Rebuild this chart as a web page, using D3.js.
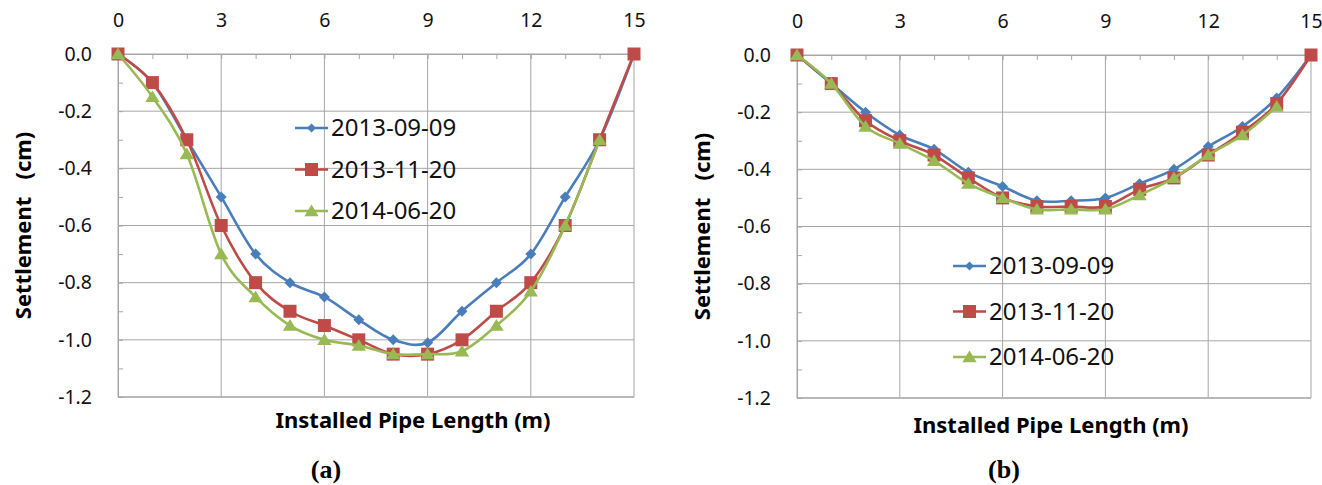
<!DOCTYPE html>
<html>
<head>
<meta charset="utf-8">
<script src="https://cdn.jsdelivr.net/npm/d3@7"></script>
<style>
  body { margin: 0; background: #fff; }
  text { font-family: "Noto Sans", "Open Sans", sans-serif; }
</style>
</head>
<body>
<div id="chart"></div>
<script>
// Installed pipe length (m), shared by both panels
var lengths = d3.range(0, 16);
var seriesNames = ["2013-09-09", "2013-11-20", "2014-06-20"];
var xTickValues = [0, 3, 6, 9, 12, 15];
var yTickValues = [0, -0.2, -0.4, -0.6, -0.8, -1.0, -1.2];

// panel (a) settlement, cm
var a0909 = [0, -0.1, -0.3, -0.5, -0.7, -0.8, -0.85, -0.93, -1.0, -1.01, -0.9, -0.8, -0.7, -0.5, -0.3, 0];
var a1120 = [0, -0.1, -0.3, -0.6, -0.8, -0.9, -0.95, -1.0, -1.05, -1.05, -1.0, -0.9, -0.8, -0.6, -0.3, 0];
var a0620 = [0, -0.15, -0.35, -0.7, -0.85, -0.95, -1.0, -1.02, -1.05, -1.05, -1.04, -0.95, -0.83, -0.6, -0.3];

// panel (b) settlement, cm
var b0909 = [0, -0.1, -0.2, -0.28, -0.33, -0.41, -0.46, -0.51, -0.51, -0.5, -0.45, -0.4, -0.32, -0.25, -0.15, 0];
var b1120 = [0, -0.1, -0.23, -0.3, -0.35, -0.43, -0.5, -0.53, -0.53, -0.53, -0.47, -0.43, -0.35, -0.27, -0.17, 0];
var b0620 = [0, -0.1, -0.25, -0.31, -0.37, -0.45, -0.5, -0.54, -0.54, -0.54, -0.49, -0.43, -0.35, -0.28, -0.18];

var colors = ["#4a7ebb", "#be4b48", "#98b954"];
var shapes = ["diamond", "square", "triangle"];

var svg = d3.select("#chart").append("svg")
    .attr("width", 1322)
    .attr("height", 485);

svg.append("rect").attr("width", 1322).attr("height", 485).attr("fill", "#fff");

function markerPath(shape, s) {
    if (shape === "diamond") return "M0," + (-s) + "L" + s + ",0L0," + s + "L" + (-s) + ",0Z";
    if (shape === "square") return "M" + (-s) + "," + (-s) + "h" + (2 * s) + "v" + (2 * s) + "h" + (-2 * s) + "Z";
    return "M0," + (-s) + "L" + (s * 1.1) + "," + (s * 0.8) + "L" + (-s * 1.1) + "," + (s * 0.8) + "Z";
}
var markerSize = { diamond: 5.5, square: 6.5, triangle: 6.5 };

function drawPanel(p) {
    var x = d3.scaleLinear().domain([0, 15]).range([p.left, p.right]);
    var y = d3.scaleLinear().domain([0, -1.2]).range([p.top, p.bottom]);
    var g = svg.append("g");

    // grid
    g.selectAll(".vgrid").data(xTickValues).enter().append("line")
        .attr("x1", function(d) { return x(d); }).attr("x2", function(d) { return x(d); })
        .attr("y1", p.top).attr("y2", p.bottom)
        .attr("stroke", "#a6a6a6").attr("stroke-width", 1);
    g.selectAll(".hgrid").data(yTickValues).enter().append("line")
        .attr("x1", p.left).attr("x2", p.right)
        .attr("y1", function(d) { return y(d); }).attr("y2", function(d) { return y(d); })
        .attr("stroke", function(d) { return d === -1.2 ? "#b8b8b8" : "#a6a6a6"; })
        .attr("stroke-width", function(d) { return d === -1.2 ? 2 : 1; });

    // minor ticks
    var topMinor = d3.axisTop(x).tickValues(lengths).tickSize(-5).tickFormat("");
    g.append("g").attr("transform", "translate(0," + p.top + ")").call(topMinor)
        .call(function(s) { s.select(".domain").attr("stroke", "#a6a6a6"); s.selectAll("line").attr("stroke", "#a6a6a6"); });
    var leftMinor = d3.axisLeft(y).tickValues(d3.range(0, 13).map(function(i) { return -i / 10; })).tickSize(-5).tickFormat("");
    g.append("g").attr("transform", "translate(" + p.left + ",0)").call(leftMinor)
        .call(function(s) { s.select(".domain").attr("stroke", "#a6a6a6"); s.selectAll("line").attr("stroke", "#a6a6a6"); });

    // tick labels
    var topAxis = d3.axisTop(x).tickValues(xTickValues).tickSize(0).tickPadding(27);
    g.append("g").attr("transform", "translate(0," + p.top + ")").call(topAxis)
        .call(function(s) {
            s.select(".domain").remove();
            s.selectAll("text").attr("font-size", 19.5).attr("fill", "#111")
                .style("font-family", "'Noto Sans', sans-serif");
        });
    var leftAxis = d3.axisLeft(y).tickValues(yTickValues).tickSize(0).tickPadding(26)
        .tickFormat(function(d) { return d.toFixed(1); });
    g.append("g").attr("transform", "translate(" + p.left + ",0)").call(leftAxis)
        .call(function(s) {
            s.select(".domain").remove();
            s.selectAll("text").attr("font-size", 19.5).attr("fill", "#111")
                .style("font-family", "'Noto Sans', sans-serif");
        });

    // series
    var line = d3.line()
        .x(function(d, i) { return x(lengths[i]); })
        .y(function(d) { return y(d); })
        .curve(d3.curveCatmullRom.alpha(0));

    p.series.forEach(function(vals, k) {
        g.append("path").datum(vals)
            .attr("d", line)
            .attr("fill", "none")
            .attr("stroke", colors[k])
            .attr("stroke-width", 2.6);
        g.selectAll(".m" + k).data(vals).enter().append("path")
            .attr("transform", function(d, i) { return "translate(" + x(lengths[i]) + "," + y(d) + ")"; })
            .attr("d", markerPath(shapes[k], markerSize[shapes[k]]))
            .attr("fill", colors[k]);
    });

    // legend
    seriesNames.forEach(function(name, k) {
        var ly = p.legendY + k * p.legendStep;
        g.append("line")
            .attr("x1", p.legendX).attr("x2", p.legendX + 33)
            .attr("y1", ly).attr("y2", ly)
            .attr("stroke", colors[k]).attr("stroke-width", 2.6);
        g.append("path")
            .attr("transform", "translate(" + (p.legendX + 16.5) + "," + ly + ")")
            .attr("d", markerPath(shapes[k], shapes[k] === "diamond" ? 4.5 : 6.5))
            .attr("fill", colors[k]);
        g.append("text")
            .attr("x", p.legendX + 36).attr("y", ly)
            .attr("dy", "0.35em")
            .attr("font-size", 24)
            .attr("fill", "#111")
            .text(name);
    });

    // axis titles
    g.append("text")
        .attr("transform", "translate(" + p.yTitleX + "," + ((p.top + p.bottom) / 2) + ") rotate(-90)")
        .attr("text-anchor", "middle")
        .attr("font-size", 22).attr("font-weight", "bold")
        .style("white-space", "pre")
        .text("Settlement   (cm)");
    g.append("text")
        .attr("x", (p.left + p.right) / 2 + p.xTitleShift).attr("y", p.xTitleY)
        .attr("text-anchor", "middle")
        .attr("font-size", 22).attr("font-weight", "bold")
        .text("Installed Pipe Length (m)");
    g.append("text")
        .attr("x", p.tagX).attr("y", 478)
        .attr("text-anchor", "middle")
        .style("font-family", "'Liberation Serif', 'Times New Roman', serif")
        .attr("font-size", 26).attr("font-weight", "bold")
        .text(p.tag);
}

drawPanel({
    left: 118, right: 634, top: 54, bottom: 397,
    series: [a0909, a1120, a0620],
    legendX: 295, legendY: 128, legendStep: 41.5,
    yTitleX: 31, xTitleY: 428, xTitleShift: 37,
    tagX: 326, tag: "(a)"
});
drawPanel({
    left: 797, right: 1311, top: 55, bottom: 398,
    series: [b0909, b1120, b0620],
    legendX: 953, legendY: 266, legendStep: 45.5,
    yTitleX: 710, xTitleY: 433, xTitleShift: -3,
    tagX: 1004, tag: "(b)"
});
</script>
</body>
</html>
